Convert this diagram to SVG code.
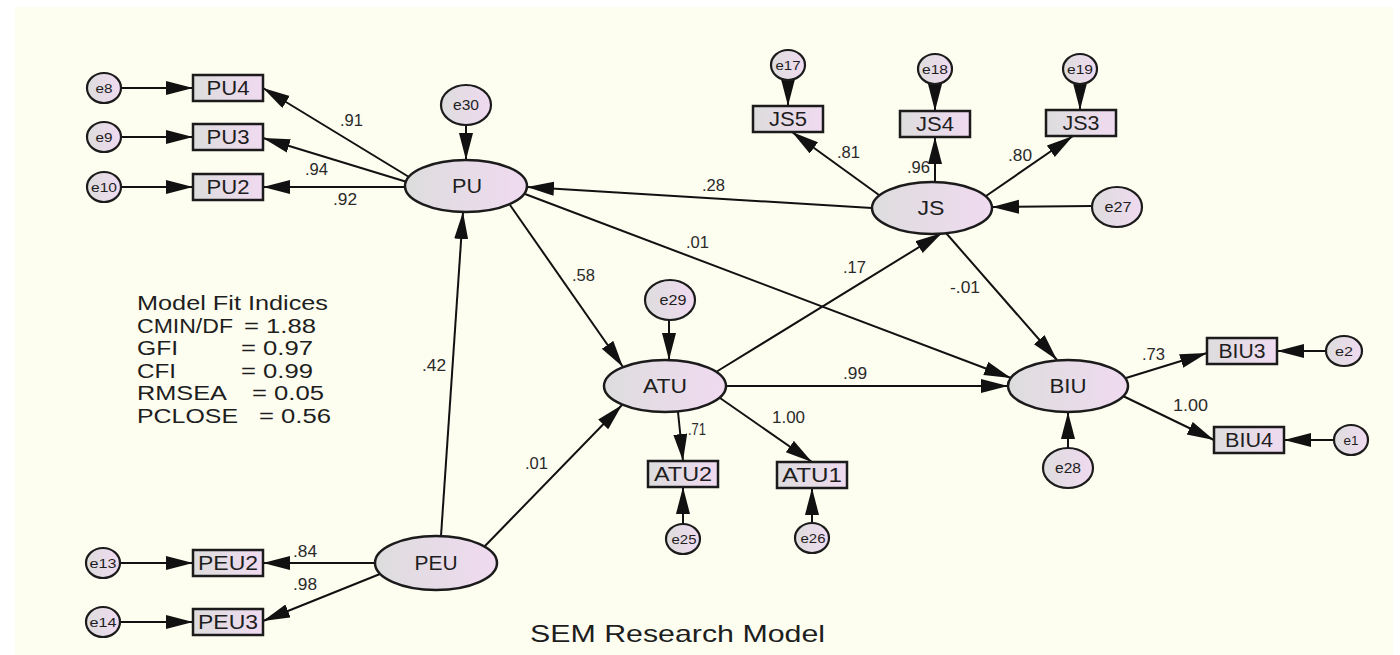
<svg xmlns="http://www.w3.org/2000/svg" width="1400" height="655" viewBox="0 0 1400 655">
<defs>
<linearGradient id="g" x1="0" y1="0" x2="1" y2="0">
<stop offset="0" stop-color="#dddddd"/>
<stop offset="1" stop-color="#f0daf0"/>
</linearGradient>
<marker id="ah" markerUnits="userSpaceOnUse" markerWidth="28" markerHeight="16" refX="27" refY="7" orient="auto">
<path d="M0,0 L27,7 L0,14 z" fill="#111"/>
</marker>
</defs>
<style>
.lat,.obs,.err{fill:url(#g);stroke:#1b1b1b;stroke-width:2.5}
.err{stroke-width:2.2}
.c{stroke:#111;stroke-width:2;fill:none;marker-end:url(#ah)}
text{font-family:"Liberation Sans",Arial,sans-serif;fill:#1e1e1e}
.nl{font-size:20px;text-anchor:middle}
.el{font-size:13px;text-anchor:middle}
.elb{font-size:15px;text-anchor:middle}
.w{font-size:16px;fill:#2a2a2a}
.fit{font-size:20px}
.title{font-size:24px}
</style>
<rect x="0" y="0" width="1400" height="655" fill="#ffffff"/>
<rect x="15" y="7" width="1378" height="648" fill="#fdfdf0"/>

<g id="connectors">
<path class="c" d="M121,88 L193,88"/>
<path class="c" d="M121,137 L193,137"/>
<path class="c" d="M121,187 L193,187"/>
<path class="c" d="M120,563 L193,563"/>
<path class="c" d="M120,622 L193,622"/>
<path class="c" d="M466,124 L466,160"/>
<path class="c" d="M409,177 L263,88"/>
<path class="c" d="M407,182 L263,138"/>
<path class="c" d="M405,187 L263,187"/>
<path class="c" d="M872,208 L527,187"/>
<path class="c" d="M788,80 L788,106"/>
<path class="c" d="M935,84 L935,111"/>
<path class="c" d="M1080,84 L1080,110"/>
<path class="c" d="M879,195 L792,132"/>
<path class="c" d="M935,182 L935,137"/>
<path class="c" d="M986,196 L1073,136"/>
<path class="c" d="M1092,206 L992,207"/>
<path class="c" d="M510,205 L623,367"/>
<path class="c" d="M525,194 L1011,378"/>
<path class="c" d="M441,536 L463,212"/>
<path class="c" d="M484,547 L622,405"/>
<path class="c" d="M669,320 L669,360"/>
<path class="c" d="M716,372 L942,233"/>
<path class="c" d="M946,233 L1057,360"/>
<path class="c" d="M726,386 L1008,386"/>
<path class="c" d="M678,412 L683,461"/>
<path class="c" d="M683,524 L683,487"/>
<path class="c" d="M720,398 L812,462"/>
<path class="c" d="M812,523 L812,488"/>
<path class="c" d="M1068,448 L1068,412"/>
<path class="c" d="M1126,378 L1207,353"/>
<path class="c" d="M1123,396 L1214,440"/>
<path class="c" d="M1326,351 L1277,351"/>
<path class="c" d="M1334,440 L1284,440"/>
<path class="c" d="M375,563 L263,563"/>
<path class="c" d="M380,574 L263,621"/>
</g>

<g id="weights">
<text class="w" x="340" y="126" textLength="23" lengthAdjust="spacingAndGlyphs">.91</text>
<text class="w" x="305" y="175" textLength="23" lengthAdjust="spacingAndGlyphs">.94</text>
<text class="w" x="333" y="205" textLength="24" lengthAdjust="spacingAndGlyphs">.92</text>
<text class="w" x="702" y="191" textLength="23" lengthAdjust="spacingAndGlyphs">.28</text>
<text class="w" x="837" y="158" textLength="23" lengthAdjust="spacingAndGlyphs">.81</text>
<text class="w" x="907" y="173" textLength="23" lengthAdjust="spacingAndGlyphs">.96</text>
<text class="w" x="1008" y="161" textLength="24" lengthAdjust="spacingAndGlyphs">.80</text>
<text class="w" x="686" y="248" textLength="23" lengthAdjust="spacingAndGlyphs">.01</text>
<text class="w" x="572" y="281" textLength="23" lengthAdjust="spacingAndGlyphs">.58</text>
<text class="w" x="843" y="273" textLength="23" lengthAdjust="spacingAndGlyphs">.17</text>
<text class="w" x="950" y="293" textLength="30" lengthAdjust="spacingAndGlyphs">-.01</text>
<text class="w" x="422" y="371" textLength="24" lengthAdjust="spacingAndGlyphs">.42</text>
<text class="w" x="843" y="379" textLength="24" lengthAdjust="spacingAndGlyphs">.99</text>
<text class="w" x="1142" y="360" textLength="23" lengthAdjust="spacingAndGlyphs">.73</text>
<text class="w" x="1173" y="411" textLength="35" lengthAdjust="spacingAndGlyphs">1.00</text>
<text class="w" x="772" y="423" textLength="33" lengthAdjust="spacingAndGlyphs">1.00</text>
<text class="w" x="688" y="435" textLength="18" lengthAdjust="spacingAndGlyphs">.71</text>
<text class="w" x="525" y="469" textLength="23" lengthAdjust="spacingAndGlyphs">.01</text>
<text class="w" x="293" y="557" textLength="24" lengthAdjust="spacingAndGlyphs">.84</text>
<text class="w" x="293" y="590" textLength="24" lengthAdjust="spacingAndGlyphs">.98</text>
</g>

<g id="PU"><ellipse class="lat" cx="466" cy="186" rx="61" ry="26"/><text class="nl" x="467" y="193" textLength="30" lengthAdjust="spacingAndGlyphs">PU</text></g>
<g id="JS"><ellipse class="lat" cx="932" cy="208" rx="60" ry="26"/><text class="nl" x="931" y="215" textLength="27" lengthAdjust="spacingAndGlyphs">JS</text></g>
<g id="ATU"><ellipse class="lat" cx="665" cy="386" rx="61" ry="26"/><text class="nl" x="665" y="393" textLength="44" lengthAdjust="spacingAndGlyphs">ATU</text></g>
<g id="BIU"><ellipse class="lat" cx="1068" cy="386" rx="60" ry="26"/><text class="nl" x="1068" y="393" textLength="37" lengthAdjust="spacingAndGlyphs">BIU</text></g>
<g id="PEU"><ellipse class="lat" cx="436" cy="563" rx="61" ry="27"/><text class="nl" x="436" y="570" textLength="43" lengthAdjust="spacingAndGlyphs">PEU</text></g>

<g id="PU4"><rect class="obs" x="193" y="75" width="70" height="26"/><text class="nl" x="228" y="95" textLength="43" lengthAdjust="spacingAndGlyphs">PU4</text></g>
<g id="PU3"><rect class="obs" x="193" y="124" width="70" height="26"/><text class="nl" x="228" y="144" textLength="43" lengthAdjust="spacingAndGlyphs">PU3</text></g>
<g id="PU2"><rect class="obs" x="193" y="174" width="70" height="26"/><text class="nl" x="228" y="194" textLength="43" lengthAdjust="spacingAndGlyphs">PU2</text></g>
<g id="JS5"><rect class="obs" x="753" y="106" width="70" height="26"/><text class="nl" x="788" y="126" textLength="38" lengthAdjust="spacingAndGlyphs">JS5</text></g>
<g id="JS4"><rect class="obs" x="900" y="111" width="70" height="26"/><text class="nl" x="935" y="131" textLength="38" lengthAdjust="spacingAndGlyphs">JS4</text></g>
<g id="JS3"><rect class="obs" x="1046" y="110" width="70" height="26"/><text class="nl" x="1081" y="130" textLength="37" lengthAdjust="spacingAndGlyphs">JS3</text></g>
<g id="ATU2"><rect class="obs" x="648" y="461" width="70" height="26"/><text class="nl" x="683" y="481" textLength="58" lengthAdjust="spacingAndGlyphs">ATU2</text></g>
<g id="ATU1"><rect class="obs" x="777" y="462" width="70" height="26"/><text class="nl" x="812" y="482" textLength="60" lengthAdjust="spacingAndGlyphs">ATU1</text></g>
<g id="BIU3"><rect class="obs" x="1207" y="338" width="70" height="26"/><text class="nl" x="1242" y="358" textLength="47" lengthAdjust="spacingAndGlyphs">BIU3</text></g>
<g id="BIU4"><rect class="obs" x="1214" y="427" width="70" height="26"/><text class="nl" x="1249" y="447" textLength="48" lengthAdjust="spacingAndGlyphs">BIU4</text></g>
<g id="PEU2"><rect class="obs" x="193" y="550" width="70" height="26"/><text class="nl" x="228" y="570" textLength="60" lengthAdjust="spacingAndGlyphs">PEU2</text></g>
<g id="PEU3"><rect class="obs" x="193" y="609" width="70" height="26"/><text class="nl" x="228" y="629" textLength="60" lengthAdjust="spacingAndGlyphs">PEU3</text></g>

<g id="e8"><ellipse class="err" cx="104" cy="88" rx="17" ry="15"/><text class="el" x="104" y="92.5" textLength="17" lengthAdjust="spacingAndGlyphs">e8</text></g>
<g id="e9"><ellipse class="err" cx="104" cy="137" rx="17" ry="15"/><text class="el" x="104" y="141.5" textLength="17" lengthAdjust="spacingAndGlyphs">e9</text></g>
<g id="e10"><ellipse class="err" cx="104" cy="187" rx="17" ry="15"/><text class="el" x="104" y="191.5" textLength="26" lengthAdjust="spacingAndGlyphs">e10</text></g>
<g id="e13"><ellipse class="err" cx="103" cy="563" rx="17" ry="15"/><text class="el" x="103" y="567.5" textLength="27" lengthAdjust="spacingAndGlyphs">e13</text></g>
<g id="e14"><ellipse class="err" cx="103" cy="622" rx="17" ry="15"/><text class="el" x="103" y="626.5" textLength="27" lengthAdjust="spacingAndGlyphs">e14</text></g>
<g id="e17"><ellipse class="err" cx="788" cy="65" rx="17" ry="15"/><text class="el" x="788" y="69.5" textLength="25" lengthAdjust="spacingAndGlyphs">e17</text></g>
<g id="e18"><ellipse class="err" cx="935" cy="69" rx="17" ry="15"/><text class="el" x="935" y="73.5" textLength="26" lengthAdjust="spacingAndGlyphs">e18</text></g>
<g id="e19"><ellipse class="err" cx="1080" cy="69" rx="17" ry="15"/><text class="el" x="1080" y="73.5" textLength="26" lengthAdjust="spacingAndGlyphs">e19</text></g>
<g id="e25"><ellipse class="err" cx="683" cy="539" rx="17" ry="15"/><text class="el" x="684" y="543.5" textLength="25" lengthAdjust="spacingAndGlyphs">e25</text></g>
<g id="e26"><ellipse class="err" cx="812" cy="538" rx="17" ry="15"/><text class="el" x="813" y="542.5" textLength="25" lengthAdjust="spacingAndGlyphs">e26</text></g>
<g id="e2"><ellipse class="err" cx="1344" cy="351" rx="18" ry="15"/><text class="el" x="1344" y="355.5" textLength="18" lengthAdjust="spacingAndGlyphs">e2</text></g>
<g id="e1"><ellipse class="err" cx="1351" cy="440" rx="17" ry="15"/><text class="el" x="1351" y="444.5" textLength="15" lengthAdjust="spacingAndGlyphs">e1</text></g>
<g id="e30"><ellipse class="err" cx="466" cy="105" rx="25" ry="20"/><text class="elb" x="466" y="110" textLength="26" lengthAdjust="spacingAndGlyphs">e30</text></g>
<g id="e29"><ellipse class="err" cx="670" cy="300" rx="25" ry="20"/><text class="elb" x="673" y="305" textLength="27" lengthAdjust="spacingAndGlyphs">e29</text></g>
<g id="e27"><ellipse class="err" cx="1117" cy="207" rx="25" ry="20"/><text class="elb" x="1118" y="212" textLength="27" lengthAdjust="spacingAndGlyphs">e27</text></g>
<g id="e28"><ellipse class="err" cx="1068" cy="468" rx="25" ry="20"/><text class="elb" x="1068" y="473" textLength="26" lengthAdjust="spacingAndGlyphs">e28</text></g>

<g id="fit-indices">
<text class="fit" x="137" y="310" textLength="191" lengthAdjust="spacingAndGlyphs">Model Fit Indices</text>
<text class="fit" y="333"><tspan x="137" textLength="96" lengthAdjust="spacingAndGlyphs">CMIN/DF</tspan><tspan x="244" textLength="72" lengthAdjust="spacingAndGlyphs">= 1.88</tspan></text>
<text class="fit" y="355"><tspan x="137" textLength="41" lengthAdjust="spacingAndGlyphs">GFI</tspan><tspan x="241" textLength="72" lengthAdjust="spacingAndGlyphs">= 0.97</tspan></text>
<text class="fit" y="378"><tspan x="137" textLength="39" lengthAdjust="spacingAndGlyphs">CFI</tspan><tspan x="241" textLength="72" lengthAdjust="spacingAndGlyphs">= 0.99</tspan></text>
<text class="fit" y="400"><tspan x="137" textLength="90" lengthAdjust="spacingAndGlyphs">RMSEA</tspan><tspan x="252" textLength="72" lengthAdjust="spacingAndGlyphs">= 0.05</tspan></text>
<text class="fit" y="423"><tspan x="137" textLength="101" lengthAdjust="spacingAndGlyphs">PCLOSE</tspan><tspan x="259" textLength="72" lengthAdjust="spacingAndGlyphs">= 0.56</tspan></text>
</g>

<text class="title" x="530" y="642" textLength="295" lengthAdjust="spacingAndGlyphs">SEM Research Model</text>
</svg>
